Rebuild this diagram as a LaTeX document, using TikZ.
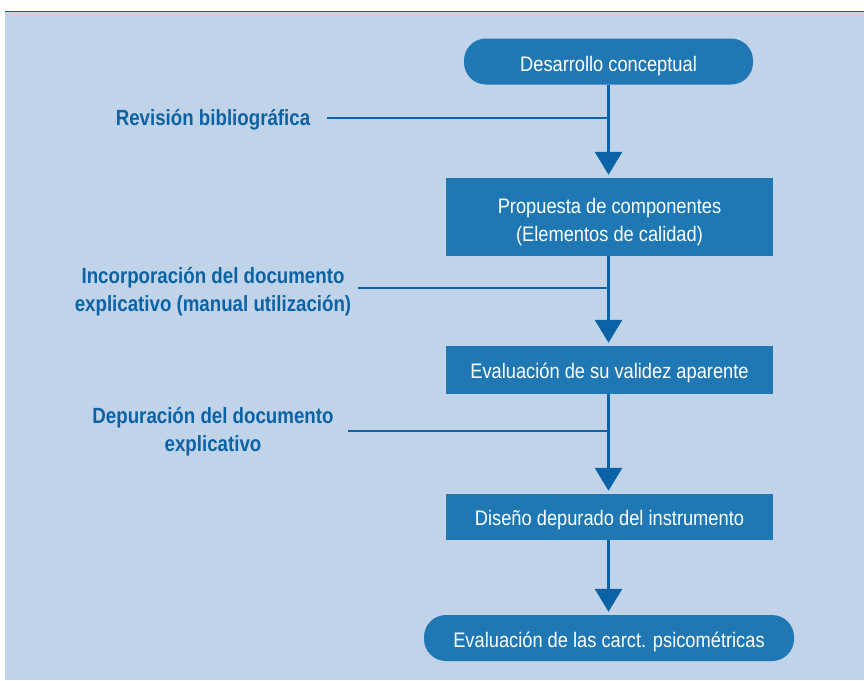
\documentclass[tikz,border=0pt]{standalone}
\usepackage{fontspec}
\setmainfont[FakeStretch=0.87]{Liberation Sans}
\newfontfamily\labelfont[FakeStretch=0.85]{Liberation Sans}
\usepackage{tikz}
\usetikzlibrary{arrows.meta, positioning, shapes}
\definecolor{panel}{HTML}{C1D3E8}
\definecolor{boxblue}{HTML}{1F78B4}
\definecolor{lineblue}{HTML}{0B63A5}
\newcommand{\boxwidth}{327pt}
\tikzstyle{terminal} = [% start end node
  rectangle,
  rounded corners=22pt,
  inner sep=0pt,
  minimum height=46pt,
  text height=23pt,
  text depth=4pt,
  text centered,
  text=white,
  fill=boxblue,
  font=\fontsize{21}{24}\selectfont
  ]
\tikzstyle{stage} = [% process node
  rectangle,
  inner sep=0pt,
  minimum width=\boxwidth,
  text height=22pt,
  text depth=5pt,
  text centered,
  align=center,
  text=white,
  fill=boxblue,
  font=\fontsize{21}{28}\selectfont
  ]
\tikzstyle{note} = [% side label
  align=center,
  text height=22pt,
  text depth=5pt,
  text=lineblue,
  font=\labelfont\bfseries\fontsize{22}{28}\selectfont
  ]
\tikzstyle{twolines} = [% two line text
  text height=60pt,
  text depth=11pt
  ]
\tikzstyle{flow} = [% arrow format
  line width=3pt,
  draw=lineblue,
  -{Triangle[width=27pt,length=23pt]},
  shorten >=3pt
  ]
\tikzstyle{branch} = [% side line
  line width=2.5pt,
  draw=lineblue
  ]

\begin{document}
\begin{tikzpicture}[x=1pt,y=-1pt]

%%% Frame
\useasboundingbox (0,0) rectangle (864,680);
\fill[panel] (5,11) rectangle (864,680);
\draw[line width=1.5pt, color=lineblue] (5,11.5) -- (864,11.5);

%%% Nodes
\node[terminal, minimum width=289pt] (dc) at (608.5,61.5) {Desarrollo conceptual};
\node[stage, twolines, minimum height=78pt] (prop) at (609.5,217) {Propuesta de componentes\\(Elementos de calidad)};
\node[stage, minimum height=48pt] (eval) at (609.5,370) {Evaluación de su validez aparente};
\node[stage, minimum height=46pt] (dis) at (609.5,517) {Diseño depurado del instrumento};
\node[terminal, minimum width=370pt] (psico) at (609,638) {Evaluación de las carct. psicométricas};

%%% Labels
\node[note] (rev) at (213,117) {Revisión bibliográfica};
\node[note, twolines] (inc) at (213,287) {Incorporación del documento\\explicativo (manual utilización)};
\node[note, twolines] (dep) at (213,427) {Depuración del documento\\explicativo};
\coordinate (rev-e) at (327,118);
\coordinate (inc-e) at (358,288);
\coordinate (dep-e) at (348,431);

%%% Connectors
\draw[branch] (rev-e) -- (rev-e -| dc);
\draw[branch] (inc-e) -- (inc-e -| dc);
\draw[branch] (dep-e) -- (dep-e -| dc);
\draw[flow] (dc) -- (dc |- prop.north);
\draw[flow] (dc |- prop.south) -- (dc |- eval.north);
\draw[flow] (dc |- eval.south) -- (dc |- dis.north);
\draw[flow] (dc |- dis.south) -- (dc |- psico.north);

\end{tikzpicture}
\end{document}
